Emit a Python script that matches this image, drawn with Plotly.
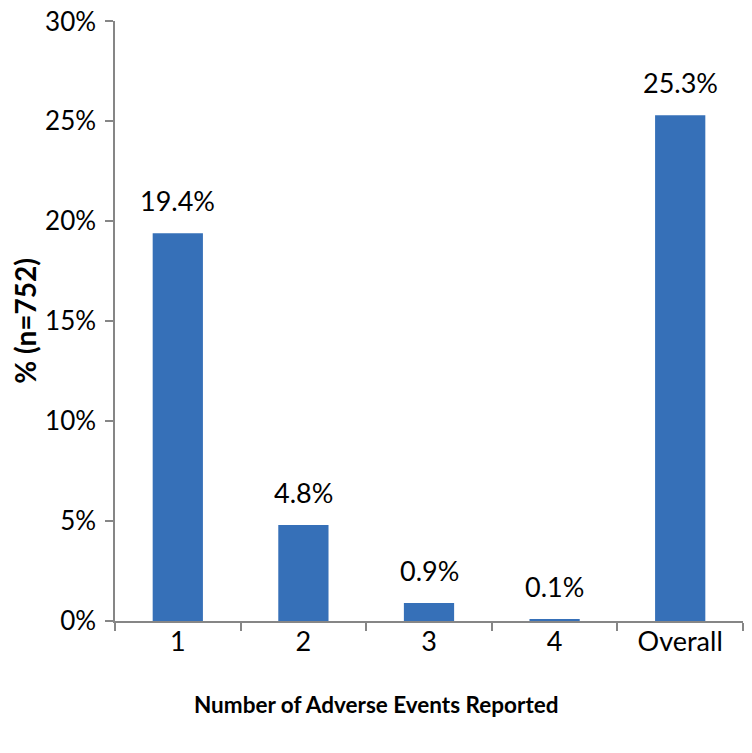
import plotly.graph_objects as go

categories = ["1", "2", "3", "4", "Overall"]
values = [19.4, 4.8, 0.9, 0.1, 25.3]
labels = ["19.4%", "4.8%", "0.9%", "0.1%", "25.3%"]
y_ticks = [0, 5, 10, 15, 20, 25, 30]
y_tick_text = ["0%", "5%", "10%", "15%", "20%", "25%", "30%"]

FONT = "Lato, Open Sans, sans-serif"

fig = go.Figure()
fig.add_trace(go.Bar(
    x=categories, y=values,
    marker=dict(color="#3670B8", line=dict(width=0)),
    width=0.4,
))
for i, (v, t) in enumerate(zip(values, labels)):
    fig.add_annotation(x=i, y=v, text=t, showarrow=False, yanchor="bottom",
                       yshift=14, font=dict(family=FONT, size=27, color="#000"))

fig.add_annotation(xref="paper", yref="paper", x=0.416, y=0, yanchor="middle",
                   yshift=-83, showarrow=False,
                   text="<b>Number of Adverse Events Reported</b>",
                   font=dict(family=FONT, size=22.5, color="#000"))

fig.update_layout(
    width=752, height=753,
    margin=dict(l=107, r=17, t=13, b=140),
    paper_bgcolor="white", plot_bgcolor="white",
    showlegend=False,
    font=dict(family=FONT, size=27, color="#000"),
    xaxis=dict(
        type="category", automargin=False,
        showline=True, linecolor="#868686", linewidth=1.5,
        ticks="outside", tickson="boundaries", ticklen=8, tickcolor="#868686",
        tickwidth=1.5, ticklabelstandoff=-4,
        tickfont=dict(family=FONT, size=27),
        showgrid=False,
    ),
    yaxis=dict(
        range=[0, 30.02], automargin=False,
        tickvals=y_ticks, ticktext=y_tick_text,
        ticklabeloverflow="allow",
        showline=True, linecolor="#868686", linewidth=1.5,
        ticks="outside", ticklen=8, tickcolor="#868686", tickwidth=1.5,
        ticklabelstandoff=4,
        tickfont=dict(family=FONT, size=26),
        showgrid=False, zeroline=False,
        title=dict(text="<b>% (n=752)</b>", font=dict(family=FONT, size=28), standoff=22),
    ),
)

fig.write_html("out.html")
